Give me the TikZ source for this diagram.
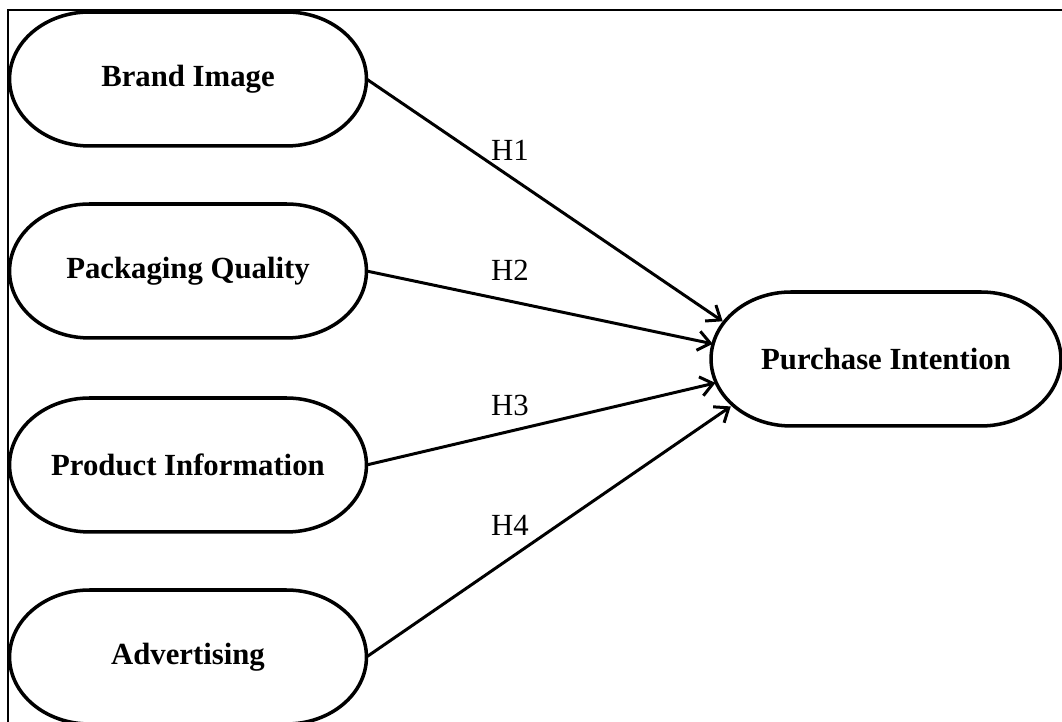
\documentclass[tikz,border=0pt]{standalone}
\usepackage{fontspec}
\setmainfont{Liberation Serif}
\usetikzlibrary{shapes.misc,arrows.meta,calc}

\tikzset{
  var/.style={rounded rectangle, outer sep=0pt, minimum width=7.14cm,
    minimum height=2.68cm, inner sep=0pt, font=\fontsize{17.5}{20}\selectfont\bfseries},
  hyp/.style={line width=1.7pt, -{Straight Barb[length=7pt,width=11pt,line width=1.7pt]}},
  hlabel/.style={font=\fontsize{17.5}{20}\selectfont}
}

\begin{document}
\begin{tikzpicture}[x=0.02cm,y=0.02cm]
  \useasboundingbox (0,0) rectangle (1062,722);
  \fill[white] (0,0) rectangle (1062,722);

  \coordinate (fb) at (8,-5);
  \coordinate (fc) at (8,712);
  \coordinate (fr) at (1070,712);
  \draw[line width=1.2pt] (fb) -- (fc) -- (fr);

  \node[var] (brand) at (188,643) {Brand Image};
  \node[var] (pack) at (188,451) {Packaging Quality};
  \node[var] (info) at (188,257) {Product Information};
  \node[var] (adv) at (188,65) {Advertising};
  \node[var, minimum width=7cm] (pur) at (886,363) {Purchase Intention};

  \foreach \n in {brand,pack,info,adv,pur} {
    \draw[line width=2pt] ($(\n.west |- \n.north)+(80,0)$) -- ($(\n.east |- \n.north)+(-80,0)$)
      arc[start angle=90,end angle=-90,x radius=1.6cm,y radius=1.34cm]
      -- ($(\n.west |- \n.south)+(80,0)$)
      arc[start angle=270,end angle=90,x radius=1.6cm,y radius=1.34cm] -- cycle;
  }

  \draw[hyp] (brand.east) -- (pur.167);
  \draw[hyp] (pack.east) -- (pur.175);
  \draw[hyp] (info.east) -- (pur.188);
  \draw[hyp] (adv.east) -- (pur.197);

  \node[hlabel] (h1) at (510,572) {H1};
  \node[hlabel] (h2) at (510,452) {H2};
  \node[hlabel] (h3) at (510,317) {H3};
  \node[hlabel] (h4) at (510,197) {H4};
\end{tikzpicture}
\end{document}
